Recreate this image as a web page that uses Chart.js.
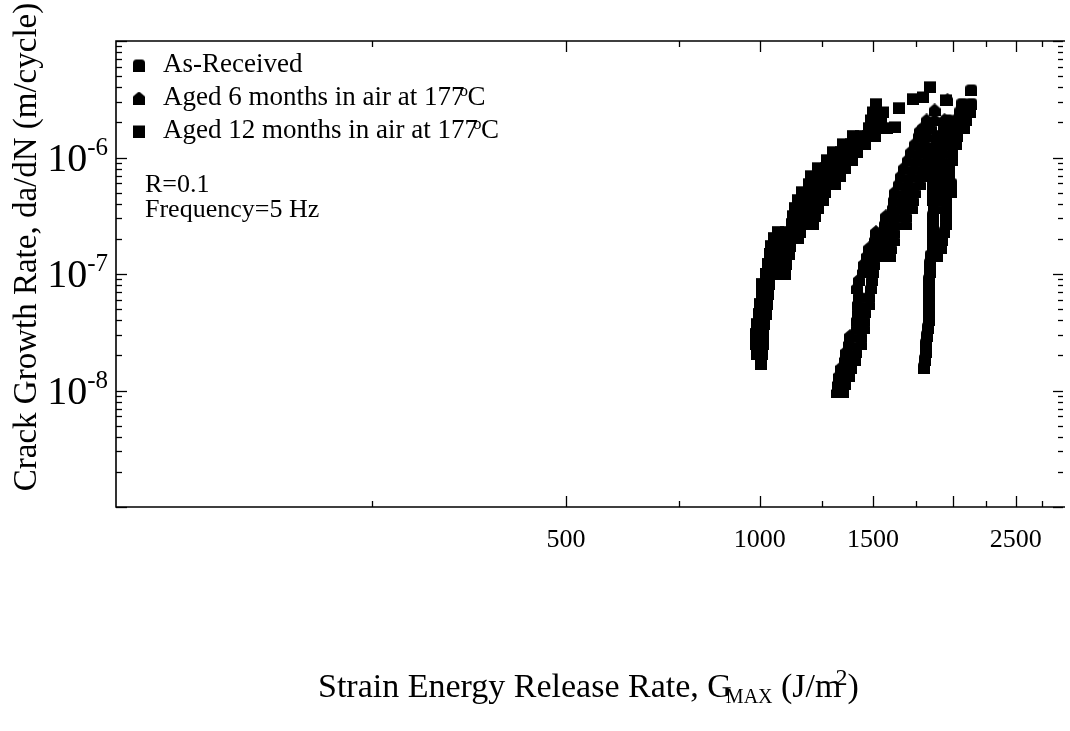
<!DOCTYPE html>
<html>
<head>
<meta charset="utf-8">
<script src="https://cdn.jsdelivr.net/npm/chart.js@4.4.0/dist/chart.umd.min.js"></script>
<style>
  html, body { margin: 0; padding: 0; background: #fff; overflow: hidden; }
  canvas { display: block; }
</style>
</head>
<body>
<canvas id="chart" width="1070" height="731"></canvas>
<script>
// Strain energy release rate G_MAX (J/m^2) and crack growth rate da/dN (m/cycle)
const gAsReceived = [
  1798, 1804, 1811, 1811, 1817, 1824, 1830, 1830, 1830, 1830, 1830, 1830, 1837, 1837,
  1843, 1883, 1857, 1910, 1857, 1923, 1857, 1937, 1857, 1951, 1857, 1951, 1863, 1951,
  1857, 1923, 1951, 1857, 1923, 1986, 1857, 1923, 1986, 1843, 1910, 1972, 1843, 1910, 1972,
  1843, 1910, 1993, 1850, 1916, 1993, 1883, 1951, 2021, 1890, 1958, 2028, 1937, 2007, 2080,
  1958, 2028, 2095, 2050, 2125, 2065, 2132, 2132
];
const rateAsReceived = [
  1.58e-8, 1.85e-8, 2.16e-8, 2.53e-8, 2.96e-8, 3.47e-8, 4.06e-8, 4.76e-8, 5.57e-8, 6.53e-8, 7.64e-8, 8.95e-8, 1.05e-7, 1.23e-7,
  1.44e-7, 1.44e-7, 1.68e-7, 1.68e-7, 1.97e-7, 1.97e-7, 2.31e-7, 2.31e-7, 2.70e-7, 2.70e-7, 3.16e-7, 3.16e-7, 3.71e-7, 3.71e-7,
  4.34e-7, 4.34e-7, 4.34e-7, 5.08e-7, 5.08e-7, 5.08e-7, 5.95e-7, 5.95e-7, 5.95e-7, 6.97e-7, 6.97e-7, 6.97e-7, 8.16e-7, 8.16e-7, 8.16e-7,
  9.56e-7, 9.56e-7, 9.56e-7, 1.12e-6, 1.12e-6, 1.12e-6, 1.31e-6, 1.31e-6, 1.31e-6, 1.54e-6, 1.54e-6, 1.54e-6, 1.80e-6, 1.80e-6, 1.80e-6,
  2.10e-6, 2.10e-6, 2.10e-6, 2.46e-6, 2.46e-6, 2.89e-6, 2.89e-6, 3.80e-6
];

const gAged6 = [
  1320, 1348, 1325, 1358, 1329, 1377, 1339, 1387, 1358, 1407, 1363, 1412, 1377, 1437, 1382, 1437,
  1417, 1453, 1417, 1453, 1422, 1458, 1422, 1479, 1427, 1479, 1417, 1489, 1427, 1495, 1448, 1500, 1453, 1505,
  1469, 1516, 1560, 1593, 1479, 1522, 1565, 1599,
  1511, 1565, 1616, 1516, 1571, 1616, 1565, 1622, 1687, 1571, 1628, 1687, 1610, 1669, 1723, 1616, 1675, 1729,
  1622, 1687, 1741, 1645, 1705, 1773, 1657, 1723, 1785, 1675, 1741, 1804, 1699, 1760, 1824, 1717, 1779, 1830,
  1741, 1804, 1766, 1817, 1773, 1791, 1843, 1817, 1870, 1937, 1870, 1958
];
const rateAged6 = [
  9.81e-9, 9.81e-9, 1.15e-8, 1.15e-8, 1.35e-8, 1.35e-8, 1.58e-8, 1.58e-8, 1.85e-8, 1.85e-8, 2.16e-8, 2.16e-8, 2.53e-8, 2.53e-8, 2.96e-8, 2.96e-8,
  3.47e-8, 3.47e-8, 4.06e-8, 4.06e-8, 4.76e-8, 4.76e-8, 5.57e-8, 5.57e-8, 6.53e-8, 6.53e-8, 7.64e-8, 7.64e-8, 8.95e-8, 8.95e-8, 1.05e-7, 1.05e-7, 1.23e-7, 1.23e-7,
  1.44e-7, 1.44e-7, 1.44e-7, 1.44e-7, 1.68e-7, 1.68e-7, 1.68e-7, 1.68e-7,
  1.97e-7, 1.97e-7, 1.97e-7, 2.31e-7, 2.31e-7, 2.31e-7, 2.70e-7, 2.70e-7, 2.70e-7, 3.16e-7, 3.16e-7, 3.16e-7, 3.71e-7, 3.71e-7, 3.71e-7, 4.34e-7, 4.34e-7, 4.34e-7,
  5.08e-7, 5.08e-7, 5.08e-7, 5.95e-7, 5.95e-7, 5.95e-7, 6.97e-7, 6.97e-7, 6.97e-7, 8.16e-7, 8.16e-7, 8.16e-7, 9.56e-7, 9.56e-7, 9.56e-7, 1.12e-6, 1.12e-6, 1.12e-6,
  1.31e-6, 1.31e-6, 1.54e-6, 1.54e-6, 1.70e-6, 1.80e-6, 1.80e-6, 2.10e-6, 2.10e-6, 2.10e-6, 2.56e-6, 3.12e-6
];

const gAged12 = [
  1004, 991, 1008, 987, 1011, 987, 1011, 991, 1015, 998, 1022, 1001, 1026, 1008, 1029, 1008, 1033,
  1022, 1059, 1093, 1029, 1067, 1098, 1037, 1074, 1110, 1041, 1078, 1113,
  1052, 1082, 1113, 1145, 1067, 1098, 1125, 1154, 1121, 1149, 1182, 1212, 1125, 1158, 1187, 1221,
  1133, 1166, 1199, 1230, 1149, 1182, 1221, 1256, 1162, 1195, 1230, 1265, 1191, 1230, 1270, 1311,
  1203, 1247, 1293, 1334, 1230, 1270, 1316, 1358, 1274, 1311, 1353, 1392, 1302, 1339, 1377, 1417,
  1348, 1387, 1422, 1458, 1397, 1437, 1474, 1511,
  1479, 1522, 1576, 1622, 1489, 1543, 1500, 1554, 1645, 1516, 1729, 1791, 1951, 1837
];
const rateAged12 = [
  1.70e-8, 2.08e-8, 2.08e-8, 2.53e-8, 2.53e-8, 3.08e-8, 3.08e-8, 3.75e-8, 3.75e-8, 4.57e-8, 4.57e-8, 5.57e-8, 5.57e-8, 6.78e-8, 6.78e-8, 8.27e-8, 8.27e-8,
  1.01e-7, 1.01e-7, 1.01e-7, 1.23e-7, 1.23e-7, 1.23e-7, 1.50e-7, 1.50e-7, 1.50e-7, 1.75e-7, 1.75e-7, 1.75e-7,
  2.05e-7, 2.05e-7, 2.05e-7, 2.05e-7, 2.31e-7, 2.31e-7, 2.31e-7, 2.31e-7, 2.70e-7, 2.70e-7, 2.70e-7, 2.70e-7, 3.16e-7, 3.16e-7, 3.16e-7, 3.16e-7,
  3.71e-7, 3.71e-7, 3.71e-7, 3.71e-7, 4.34e-7, 4.34e-7, 4.34e-7, 4.34e-7, 5.08e-7, 5.08e-7, 5.08e-7, 5.08e-7, 5.95e-7, 5.95e-7, 5.95e-7, 5.95e-7,
  6.97e-7, 6.97e-7, 6.97e-7, 6.97e-7, 8.16e-7, 8.16e-7, 8.16e-7, 8.16e-7, 9.56e-7, 9.56e-7, 9.56e-7, 9.56e-7, 1.12e-6, 1.12e-6, 1.12e-6, 1.12e-6,
  1.31e-6, 1.31e-6, 1.31e-6, 1.31e-6, 1.54e-6, 1.54e-6, 1.54e-6, 1.54e-6,
  1.80e-6, 1.80e-6, 1.80e-6, 1.83e-6, 2.10e-6, 2.10e-6, 2.46e-6, 2.46e-6, 2.67e-6, 2.89e-6, 3.19e-6, 3.31e-6, 3.12e-6, 4.04e-6
];

const seriesLabels = ['As-Received', 'Aged 6 months in air at 177°C', 'Aged 12 months in air at 177°C'];
const testNotes = ['R=0.1', 'Frequency=5 Hz'];

// axis ticks
const xMajorTicks = [500, 1000, 1500, 2000, 2500];
const xTickLabels = ['500', '1000', '1500', '', '2500'];
const xMinorTicks = [250, 750, 1250, 1750, 2250, 2750];
const yDecades = [1e-9, 1e-8, 1e-7, 1e-6, 1e-5];
const yLabelledDecades = [1e-8, 1e-7, 1e-6];
const yLabelExponents = ['-8', '-7', '-6'];

const SERIF = '"Liberation Serif", "Times New Roman", serif';

// marker glyphs
function markerCanvas(kind) {
  const c = document.createElement('canvas');
  c.width = 12; c.height = 13;
  const g = c.getContext('2d');
  g.fillStyle = '#000';
  g.beginPath();
  if (kind === 'square') {
    g.rect(0, 1, 12, 12);
  } else if (kind === 'house') {
    g.moveTo(0, 13); g.lineTo(0, 5); g.lineTo(3.5, 2); g.lineTo(6, 0);
    g.lineTo(8.5, 2); g.lineTo(12, 5); g.lineTo(12, 13); g.closePath();
  } else {
    g.moveTo(0, 13); g.lineTo(0, 4.5); g.quadraticCurveTo(0, 1, 3.5, 1);
    g.lineTo(8.5, 1); g.quadraticCurveTo(12, 1, 12, 4.5); g.lineTo(12, 13); g.closePath();
  }
  g.fill();
  return c;
}
const markers = [markerCanvas('rounded'), markerCanvas('house'), markerCanvas('square')];

function points(gs, rates) {
  return gs.map((g, i) => ({ x: g, y: rates[i] }));
}

function line(ctx, x1, y1, x2, y2) {
  ctx.beginPath(); ctx.moveTo(x1, y1); ctx.lineTo(x2, y2); ctx.stroke();
}

const decorations = {
  id: 'decorations',
  afterDraw(chart) {
    const { ctx, chartArea: a } = chart;
    const xs = chart.scales.x, ys = chart.scales.y;
    ctx.save();
    ctx.strokeStyle = '#000';
    ctx.fillStyle = '#000';

    // frame (the right edge sits at the canvas border)
    ctx.lineWidth = 1.6;
    ctx.beginPath();
    ctx.moveTo(a.right + 2, a.top); ctx.lineTo(a.left, a.top);
    ctx.lineTo(a.left, a.bottom); ctx.lineTo(a.right + 2, a.bottom);
    ctx.stroke();

    // x ticks, bottom and top, pointing inward
    ctx.lineWidth = 1.3;
    xMajorTicks.forEach(v => {
      const px = Math.round(xs.getPixelForValue(v)) + 0.5;
      line(ctx, px, a.bottom, px, a.bottom - 11);
      line(ctx, px, a.top, px, a.top + 11);
    });
    xMinorTicks.forEach(v => {
      const px = Math.round(xs.getPixelForValue(v)) + 0.5;
      line(ctx, px, a.bottom, px, a.bottom - 6);
      line(ctx, px, a.top, px, a.top + 6);
    });

    // y ticks, left and right
    yDecades.forEach(d => {
      for (let k = 1; k <= 9; k++) {
        const v = k * d;
        if (v > 1.0001e-5) break;
        const py = Math.round(ys.getPixelForValue(v)) + 0.5;
        const len = k === 1 ? 10 : 5;
        line(ctx, a.left, py, a.left + len + 1, py);
        line(ctx, a.right, py, a.right - len, py);
      }
    });

    // x tick labels
    ctx.font = '26px ' + SERIF;
    ctx.textAlign = 'center';
    ctx.textBaseline = 'alphabetic';
    xMajorTicks.forEach((v, i) => {
      if (!xTickLabels[i]) return;
      ctx.fillText(xTickLabels[i], xs.getPixelForValue(v), 547);
    });

    // y tick labels: 10 with superscript exponent
    yLabelledDecades.forEach((v, i) => {
      const py = ys.getPixelForValue(v);
      ctx.textAlign = 'left';
      ctx.font = '25px ' + SERIF;
      const wExp = ctx.measureText(yLabelExponents[i]).width;
      ctx.font = '40px ' + SERIF;
      const wBase = ctx.measureText('10').width;
      const right = 108;
      const x0 = right - wExp - wBase;
      ctx.fillText('10', x0, py + 13);
      ctx.font = '25px ' + SERIF;
      ctx.fillText(yLabelExponents[i], x0 + wBase, py - 3);
    });

    // axis titles
    ctx.textAlign = 'left';
    let x = 318;
    const by = 697;
    ctx.font = '34px ' + SERIF;
    const part1 = 'Strain Energy Release Rate, G';
    ctx.fillText(part1, x, by);
    x += ctx.measureText(part1).width - 6;
    ctx.font = '20px ' + SERIF;
    ctx.fillText('MAX', x, by + 6);
    x += ctx.measureText('MAX').width;
    ctx.font = '34px ' + SERIF;
    ctx.fillText(' (J/m', x, by);
    x += ctx.measureText(' (J/m').width - 6;
    ctx.font = '24px ' + SERIF;
    ctx.fillText('2', x, by - 12);
    x += ctx.measureText('2').width;
    ctx.font = '34px ' + SERIF;
    ctx.fillText(')', x, by);

    ctx.save();
    ctx.translate(27, 247);
    ctx.rotate(-Math.PI / 2);
    ctx.textAlign = 'center';
    ctx.textBaseline = 'middle';
    ctx.font = '33px ' + SERIF;
    ctx.fillText('Crack Growth Rate, da/dN (m/cycle)', 0, 0);
    ctx.restore();

    // legend
    const legendRows = [72, 105, 138];
    chart.data.datasets.forEach((ds, i) => {
      const m = markers[i];
      ctx.drawImage(m, 139 - m.width / 2, legendRows[i] - 7 - m.height / 2);
      ctx.font = '27px ' + SERIF;
      ctx.textAlign = 'left';
      const parts = ds.label.split('°');
      let tx = 163;
      ctx.fillText(parts[0], tx, legendRows[i]);
      if (parts.length > 1) {
        tx += ctx.measureText(parts[0]).width;
        ctx.font = '17px ' + SERIF;
        ctx.fillText('o', tx - 5, legendRows[i] - 9);
        ctx.font = '27px ' + SERIF;
        ctx.fillText(parts[1], tx + 3, legendRows[i]);
      }
    });

    // test conditions
    ctx.font = '26px ' + SERIF;
    ctx.fillText(testNotes[0], 145, 192);
    ctx.fillText(testNotes[1], 145, 217);

    ctx.restore();
  }
};

new Chart(document.getElementById('chart'), {
  type: 'scatter',
  data: {
    datasets: [
      { label: seriesLabels[0], data: points(gAsReceived, rateAsReceived), pointStyle: markers[0] },
      { label: seriesLabels[1], data: points(gAged6, rateAged6), pointStyle: markers[1] },
      { label: seriesLabels[2], data: points(gAged12, rateAged12), pointStyle: markers[2] }
    ]
  },
  options: {
    responsive: false,
    animation: false,
    devicePixelRatio: 1,
    layout: { padding: { left: 116, top: 41, right: 0, bottom: 224 } },
    elements: { point: { radius: 6, hoverRadius: 6, backgroundColor: '#000', borderColor: '#000' } },
    plugins: { legend: { display: false }, tooltip: { enabled: false } },
    scales: {
      x: { type: 'logarithmic', min: 100, max: 2960, display: false },
      y: { type: 'logarithmic', min: 1e-9, max: 1e-5, display: false }
    }
  },
  plugins: [decorations]
});
</script>
</body>
</html>
